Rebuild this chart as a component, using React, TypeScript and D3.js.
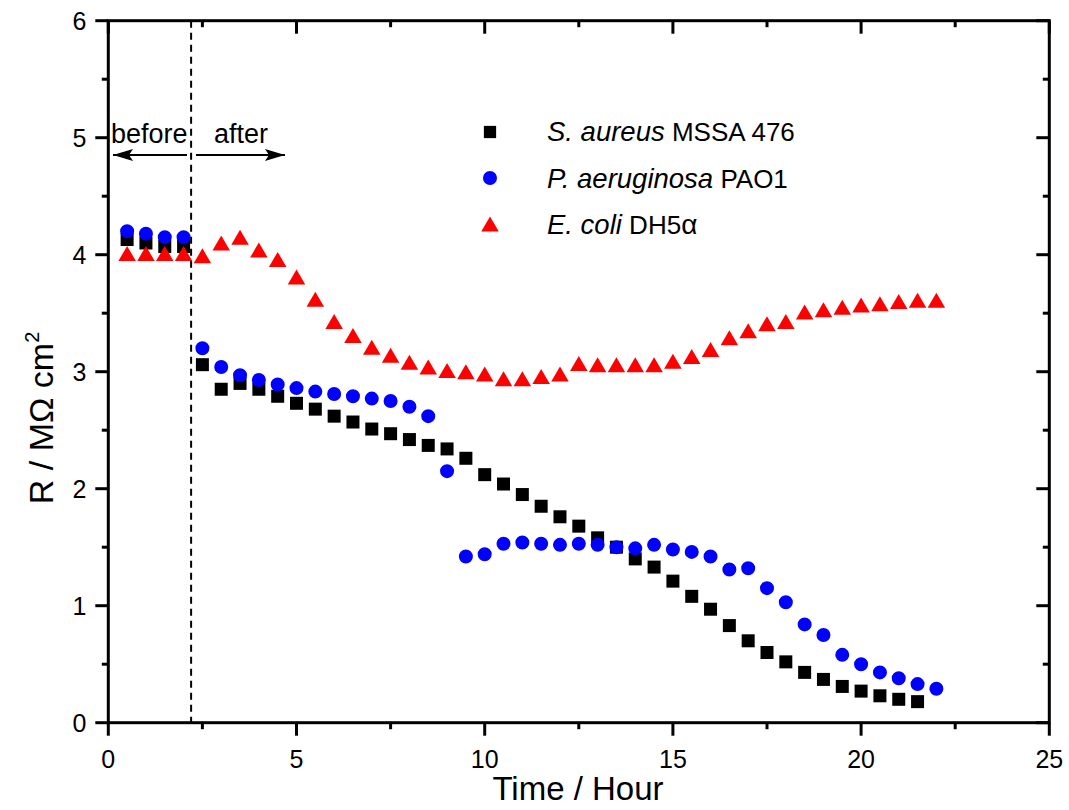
import React from "react";
import * as d3 from "d3";

const timesSA = [0.5,1,1.5,2,2.5,3,3.5,4,4.5,5,5.5,6,6.5,7,7.5,8,8.5,9,9.5,10,10.5,11,11.5,12,12.5,13,13.5,14,14.5,15,15.5,16,16.5,17,17.5,18,18.5,19,19.5,20,20.5,21,21.5];
const valuesSA = [4.13,4.10,4.07,4.07,3.06,2.85,2.90,2.85,2.79,2.73,2.68,2.62,2.57,2.51,2.47,2.42,2.37,2.34,2.26,2.12,2.04,1.95,1.85,1.76,1.68,1.58,1.50,1.40,1.33,1.21,1.08,0.97,0.83,0.70,0.60,0.52,0.43,0.37,0.31,0.27,0.23,0.20,0.18];

const timesPA = [0.5,1,1.5,2,2.5,3,3.5,4,4.5,5,5.5,6,6.5,7,7.5,8,8.5,9,9.5,10,10.5,11,11.5,12,12.5,13,13.5,14,14.5,15,15.5,16,16.5,17,17.5,18,18.5,19,19.5,20,20.5,21,21.5,22];
const valuesPA = [4.20,4.18,4.15,4.15,3.20,3.04,2.97,2.93,2.89,2.86,2.83,2.81,2.79,2.77,2.75,2.70,2.62,2.15,1.42,1.44,1.53,1.54,1.53,1.52,1.53,1.52,1.50,1.49,1.52,1.48,1.46,1.42,1.31,1.32,1.15,1.03,0.84,0.75,0.58,0.50,0.43,0.38,0.33,0.29];

const timesEC = [0.5,1,1.5,2,2.5,3,3.5,4,4.5,5,5.5,6,6.5,7,7.5,8,8.5,9,9.5,10,10.5,11,11.5,12,12.5,13,13.5,14,14.5,15,15.5,16,16.5,17,17.5,18,18.5,19,19.5,20,20.5,21,21.5,22];
const valuesEC = [4.01,4.01,4.01,4.01,3.99,4.10,4.15,4.04,3.96,3.81,3.62,3.43,3.31,3.21,3.14,3.08,3.04,3.01,3.00,2.98,2.94,2.94,2.96,2.98,3.07,3.06,3.06,3.06,3.06,3.09,3.13,3.19,3.29,3.35,3.41,3.43,3.51,3.53,3.55,3.57,3.58,3.60,3.61,3.61];

const xMajorTicks = [0,5,10,15,20,25];
const xMinorTicks = [2.5,7.5,12.5,17.5,22.5];
const yMajorTicks = [0,1,2,3,4,5,6];
const yMinorTicks = [0.5,1.5,2.5,3.5,4.5,5.5];
const dividerTime = 2.2;

const FONT = "'Liberation Sans', Arial, Helvetica, sans-serif";

const x = d3.scaleLinear().domain([0, 25]).range([108.3, 1049.3]);
const y = d3.scaleLinear().domain([0, 6]).range([722.7, 20.7]);

const squarePath = d3.symbol().type(d3.symbolSquare).size(169)() as string;
const circlePath = d3.symbol().type(d3.symbolCircle).size(154)() as string;
function triPath(w: number, h: number) {
  const p = d3.path();
  p.moveTo(0, -h / 2);
  p.lineTo(w / 2, h / 2);
  p.lineTo(-w / 2, h / 2);
  p.closePath();
  return p.toString();
}
const trianglePath = triPath(17.5, 15);

export default function App() {
  const x0 = x.range()[0], x1 = x.range()[1];
  const y0 = y.range()[0], y1 = y.range()[1];
  const major = 13, minor = 6.5;
  const sw = 3;
  return (
    <svg width={1069} height={810} style={{ position: "absolute", left: 0, top: 0, background: "#fff" }} fontFamily={FONT}>
      <defs>
        <marker id="ah" markerWidth="20" markerHeight="12" refX="20" refY="6" orient="auto" markerUnits="userSpaceOnUse">
          <path d="M0,0 L20,6 L0,12 L4,6 Z" fill="#000" />
        </marker>
      </defs>
      <rect x={0} y={0} width={1069} height={810} fill="#fff" />
      <line x1={x(dividerTime)} x2={x(dividerTime)} y1={y1} y2={y0} stroke="#000" strokeWidth={2} strokeDasharray="7,5" />
      <rect x={x0} y={y1} width={x1 - x0} height={y0 - y1} fill="none" stroke="#000" strokeWidth={sw} />
      {xMajorTicks.map((t) => (
        <line key={"bx" + t} x1={x(t)} x2={x(t)} y1={y0} y2={y0 + major} stroke="#000" strokeWidth={sw} />
      ))}
      {xMinorTicks.map((t) => (
        <line key={"bxm" + t} x1={x(t)} x2={x(t)} y1={y0} y2={y0 + minor} stroke="#000" strokeWidth={sw} />
      ))}
      {xMajorTicks.map((t) => (
        <line key={"tx" + t} x1={x(t)} x2={x(t)} y1={y1} y2={y1 + major} stroke="#000" strokeWidth={sw} />
      ))}
      {xMinorTicks.map((t) => (
        <line key={"txm" + t} x1={x(t)} x2={x(t)} y1={y1} y2={y1 + minor} stroke="#000" strokeWidth={sw} />
      ))}
      {yMajorTicks.map((t) => (
        <line key={"ly" + t} x1={x0 - major} x2={x0} y1={y(t)} y2={y(t)} stroke="#000" strokeWidth={sw} />
      ))}
      {yMinorTicks.map((t) => (
        <line key={"lym" + t} x1={x0 - minor} x2={x0} y1={y(t)} y2={y(t)} stroke="#000" strokeWidth={sw} />
      ))}
      {yMajorTicks.map((t) => (
        <line key={"ry" + t} x1={x1 - major} x2={x1} y1={y(t)} y2={y(t)} stroke="#000" strokeWidth={sw} />
      ))}
      {yMinorTicks.map((t) => (
        <line key={"rym" + t} x1={x1 - minor} x2={x1} y1={y(t)} y2={y(t)} stroke="#000" strokeWidth={sw} />
      ))}
      {xMajorTicks.map((t) => (
        <text key={"xl" + t} x={x(t)} y={y0 + 45} textAnchor="middle" fontSize={25} fill="#000">{t}</text>
      ))}
      {yMajorTicks.map((t) => (
        <text key={"yl" + t} x={x0 - 22} y={y(t) + 9} textAnchor="end" fontSize={25} fill="#000">{t}</text>
      ))}
      <text x={578} y={800} textAnchor="middle" fontSize={33} fill="#000">Time / Hour</text>
      <text transform={`translate(53, 418) rotate(-90)`} textAnchor="middle" fontSize={34} fill="#000">
        R / MΩ cm<tspan dy={-14} fontSize={20}>2</tspan>
      </text>
      <text x={111} y={143} fontSize={27} fill="#000">before</text>
      <text x={214} y={143} fontSize={27} fill="#000">after</text>
      <line x1={187} x2={113} y1={155} y2={155} stroke="#000" strokeWidth={2} markerEnd="url(#ah)" />
      <line x1={196} x2={285} y1={155} y2={155} stroke="#000" strokeWidth={2} markerEnd="url(#ah)" />
      {timesSA.map((t, i) => (
        <path key={"sa" + i} d={squarePath} transform={`translate(${x(t)},${y(valuesSA[i])})`} fill="#000" />
      ))}
      {timesPA.map((t, i) => (
        <path key={"pa" + i} d={circlePath} transform={`translate(${x(t)},${y(valuesPA[i])})`} fill="#0000ff" />
      ))}
      {timesEC.map((t, i) => (
        <path key={"ec" + i} d={trianglePath} transform={`translate(${x(t)},${y(valuesEC[i])})`} fill="#ff0000" />
      ))}
      <path d={d3.symbol().type(d3.symbolSquare).size(150)() as string} transform="translate(490,132)" fill="#000" />
      <path d={circlePath} transform="translate(490,178)" fill="#0000ff" />
      <path d={trianglePath} transform="translate(490,224)" fill="#ff0000" />
      <text x={547} y={141} fontSize={26} fill="#000"><tspan fontStyle="italic" fontSize={27.5}>S. aureus</tspan> MSSA 476</text>
      <text x={547} y={188} fontSize={26} fill="#000"><tspan fontStyle="italic" fontSize={27.5}>P. aeruginosa</tspan> PAO1</text>
      <text x={547} y={234} fontSize={26} fill="#000"><tspan fontStyle="italic" fontSize={27.5}>E. coli</tspan> DH5<tspan fontSize={28}>α</tspan></text>
    </svg>
  );
}
